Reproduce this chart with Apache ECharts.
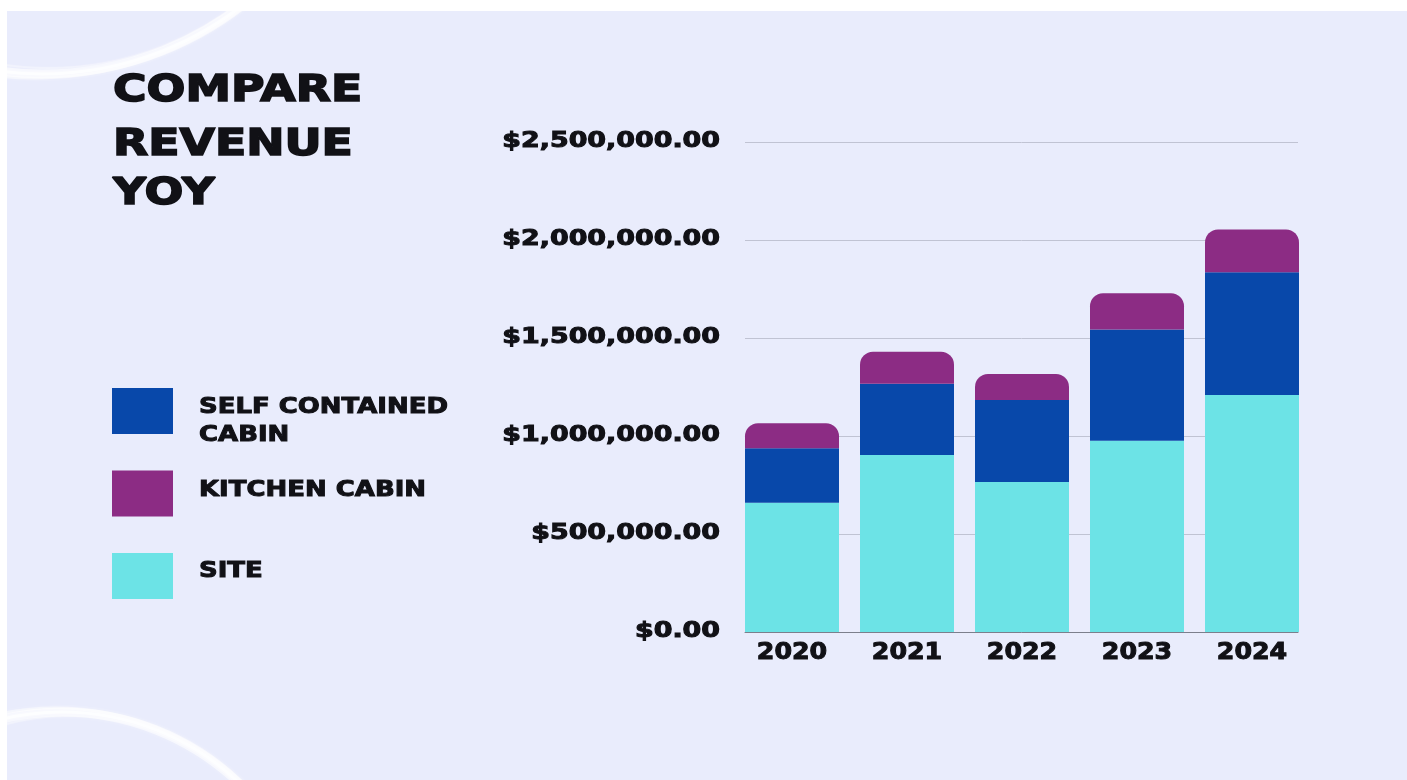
<!DOCTYPE html>
<html>
<head>
<meta charset="utf-8">
<script src="https://cdn.jsdelivr.net/npm/echarts@6/dist/echarts.min.js"></script>
<style>
html,body{margin:0;padding:0;background:#ffffff;}
#chart{width:1407px;height:780px;}
</style>
</head>
<body>
<div id="chart"></div>
<script>
// ---- data ----
const categories = ['2020', '2021', '2022', '2023', '2024'];
const siteValues = [660000, 903000, 765000, 976000, 1209000];
const selfContainedValues = [277000, 364000, 419000, 568000, 626000];
const kitchenValues = [128000, 163000, 132000, 184000, 219000];
const yTicks = [0, 500000, 1000000, 1500000, 2000000, 2500000];
const yTickLabels = ['$0.00', '$500,000.00', '$1,000,000.00', '$1,500,000.00', '$2,000,000.00', '$2,500,000.00'];
const titleLines = ['COMPARE', 'REVENUE', 'YOY'];
const legendItems = [
  { lines: ['SELF CONTAINED', 'CABIN'], key: 'self' },
  { lines: ['KITCHEN CABIN'], key: 'kitchen' },
  { lines: ['SITE'], key: 'site' }
];

// ---- styles ----
const colors = { site: '#6ce3e6', self: '#0848aa', kitchen: '#8c2c84' };
const BG = '#e9ecfc';
const FONT = '"DejaVu Sans"';
const TXT = '#111116';

const chart = echarts.init(document.getElementById('chart'), null, { renderer: 'canvas' });

function stretched(text, x, y, size, sx, align, lw) {
  return {
    type: 'text', x: x, y: y, scaleX: sx, z: 100,
    style: { text: text, font: 'bold ' + size + 'px ' + FONT, fill: TXT,
             stroke: TXT, lineWidth: lw == null ? 1 : lw,
             textAlign: align, textVerticalAlign: 'middle' }
  };
}

function decor() {
  const g = [];
  const arcs = [
    { cx: 42, cy: -252, r: 326, w: 9, o: 0.55 },
    { cx: 42, cy: -252, r: 326, w: 3, o: 0.7 },
    { cx: 36, cy: -262, r: 340, w: 3, o: 0.45 },
    { cx: 48, cy: -244, r: 312, w: 2, o: 0.3 },
    { cx: 62, cy: 968, r: 256, w: 9, o: 0.55 },
    { cx: 62, cy: 968, r: 256, w: 3, o: 0.7 },
    { cx: 56, cy: 978, r: 270, w: 3, o: 0.45 },
    { cx: 68, cy: 960, r: 244, w: 2, o: 0.3 }
  ];
  arcs.forEach(a => g.push({
    type: 'circle', z: 1, silent: true,
    shape: { cx: a.cx, cy: a.cy, r: a.r },
    style: { fill: 'none', stroke: 'rgba(255,255,255,' + a.o + ')', lineWidth: a.w,
             shadowBlur: 4, shadowColor: 'rgba(255,255,255,0.6)' }
  }));
  // white frame strips
  g.push({ type: 'rect', z: 2, silent: true, shape: { x: 0, y: 0, width: 1407, height: 11 }, style: { fill: '#ffffff' } });
  g.push({ type: 'rect', z: 2, silent: true, shape: { x: 0, y: 0, width: 7, height: 780 }, style: { fill: '#ffffff' } });
  // title
  const titleY = [91, 145, 194];
  titleLines.forEach((t, i) => g.push(stretched(t, 113, titleY[i], 37.5, 1.22, 'left', 1.6)));
  // legend
  const boxY = [388, 470.5, 553];
  const lineY = [[407, 435], [490], [571.5]];
  legendItems.forEach((it, i) => {
    g.push({ type: 'rect', z: 100, shape: { x: 112, y: boxY[i], width: 61, height: 46 },
             style: { fill: colors[it.key] } });
    it.lines.forEach((ln, j) => g.push(stretched(ln, 199, lineY[i][j], 22, 1.18, 'left', 1)));
  });
  return g;
}

const option = {
  backgroundColor: BG,
  animation: false,
  color: [colors.site, colors.self, colors.kitchen],
  grid: [
    { left: 734.5, right: 97.5, top: 142, bottom: 148 },
    { left: 745, right: 109, top: 142, bottom: 148 }
  ],
  xAxis: [
    { type: 'category', gridIndex: 0, data: categories,
      axisLine: { show: false }, axisTick: { show: false }, axisLabel: { show: false } },
    { type: 'category', gridIndex: 1, data: categories,
      axisLine: { show: true, lineStyle: { color: '#7c7f8c', width: 1 } },
      axisTick: { show: false }, axisLabel: { show: false } }
  ],
  yAxis: [
    { type: 'value', gridIndex: 0, min: yTicks[0], max: yTicks[yTicks.length - 1], interval: 500000,
      splitLine: { show: false }, axisLine: { show: false }, axisTick: { show: false }, axisLabel: { show: false } },
    { type: 'value', gridIndex: 1, min: yTicks[0], max: yTicks[yTicks.length - 1], interval: 500000,
      splitLine: { show: true, lineStyle: { color: '#c0c3d3', width: 1 } },
      axisLine: { show: false }, axisTick: { show: false }, axisLabel: { show: false } }
  ],
  series: [
    { name: 'SITE', type: 'bar', stack: 'rev', xAxisIndex: 0, yAxisIndex: 0, barWidth: 94,
      data: siteValues, itemStyle: { color: colors.site }, z: 5 },
    { name: 'SELF CONTAINED CABIN', type: 'bar', stack: 'rev', xAxisIndex: 0, yAxisIndex: 0, barWidth: 94,
      data: selfContainedValues, itemStyle: { color: colors.self }, z: 5 },
    { name: 'KITCHEN CABIN', type: 'bar', stack: 'rev', xAxisIndex: 0, yAxisIndex: 0, barWidth: 94,
      data: kitchenValues, itemStyle: { color: colors.kitchen, borderRadius: [13, 13, 0, 0] }, z: 5 }
  ],
  graphic: decor()
};
chart.setOption(option);

// axis labels placed through the library's own scales
const labels = [];
yTicks.forEach((v, i) => {
  const py = chart.convertToPixel({ yAxisIndex: 1 }, v);
  labels.push(stretched(yTickLabels[i], 720, py, 21, 1.28, 'right', 1));
});
const baseY = chart.convertToPixel({ yAxisIndex: 0 }, 0);
categories.forEach(c => {
  const px = chart.convertToPixel({ xAxisIndex: 0 }, c);
  labels.push(stretched(c, px, baseY + 21.5, 23, 1.1, 'center', 1));
});
chart.setOption({ graphic: decor().concat(labels) }, { replaceMerge: ['graphic'] });
</script>
</body>
</html>
